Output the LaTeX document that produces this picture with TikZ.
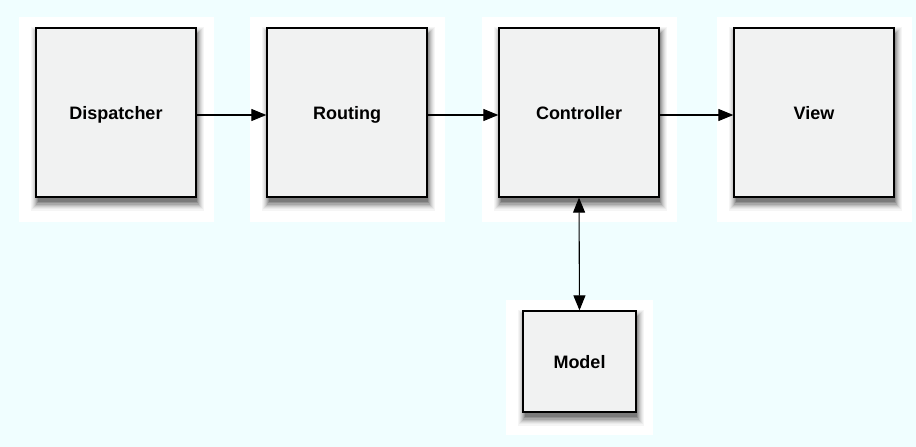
\documentclass[tikz,border=0pt]{standalone}
\usepackage{fontspec}
\setmainfont{Liberation Sans}
\usepackage{tikz}
\usetikzlibrary{arrows.meta,calc}

\definecolor{backcyan}{HTML}{F0FEFF}
\definecolor{boxgray}{HTML}{F1F2F2}
\pgfdeclarelayer{back}
\pgfdeclarelayer{shade}
\pgfsetlayers{back,shade,main}

\begin{document}
\begin{tikzpicture}[x=1pt,y=1pt]
                \tikzstyle{every node}+=[inner sep=0pt]
                \tikzstyle{stage}=[draw=black, line width=1.3pt, fill=boxgray,
                    minimum width=160pt, minimum height=169pt,
                    font=\fontsize{18}{20}\selectfont\bfseries, text height=13pt, text depth=0pt]
                \tikzstyle{link}=[line width=1.1pt, -{Triangle[length=15pt,width=12pt]}]
                % boxes
                \node [stage] (dispatcher) at (116,-112.5) {Dispatcher};
                \node [stage] (routing) at (347,-112.5) {Routing};
                \node [stage] (controller) at (579,-112.5) {Controller};
                \node [stage] (view) at (814,-112.5) {View};
                \node [stage, minimum width=113pt, minimum height=101pt] (model) at (579.5,-361.5) {Model};
                % arrows
                \draw [link] ([yshift=-2.5pt]dispatcher.east) -- ([yshift=-2.5pt]routing.west);
                \draw [link] ([yshift=-2.5pt]routing.east) -- ([yshift=-2.5pt]controller.west);
                \draw [link] ([yshift=-2.5pt]controller.east) -- ([yshift=-2.5pt]view.west);
                \draw [link, {Triangle[length=15pt,width=12pt]}-{Triangle[length=15pt,width=12pt]}] (controller.south) -- (model.north);
                % soft shadows, lightest ring first
                \begin{pgfonlayer}{shade}
                \foreach \n in {dispatcher,routing,controller,view,model}
                    \foreach \k/\shade in {0/4,1/8,2/13,3/19,4/26,5/34,6/43,7/52}
                        \fill [black!\shade!white]
                            ($(\n.south west)+(-4+\k,-13+1.2*\k)$) rectangle ($(\n.north east)+(7-\k,-\k)$);
                \end{pgfonlayer}
                % backdrop and white panels
                \begin{pgfonlayer}{back}
                \fill [backcyan] (0,0) rectangle (916,-447);
                \fill [white] (19,-17) rectangle (214,-222);
                \fill [white] (250,-17) rectangle (445,-222);
                \fill [white] (482,-17) rectangle (677,-222);
                \fill [white] (717,-17) rectangle (912,-222);
                \fill [white] (506,-300) rectangle (653,-435);
                \end{pgfonlayer}
                \useasboundingbox (0,0) rectangle (916,-447);
\end{tikzpicture}
\end{document}
